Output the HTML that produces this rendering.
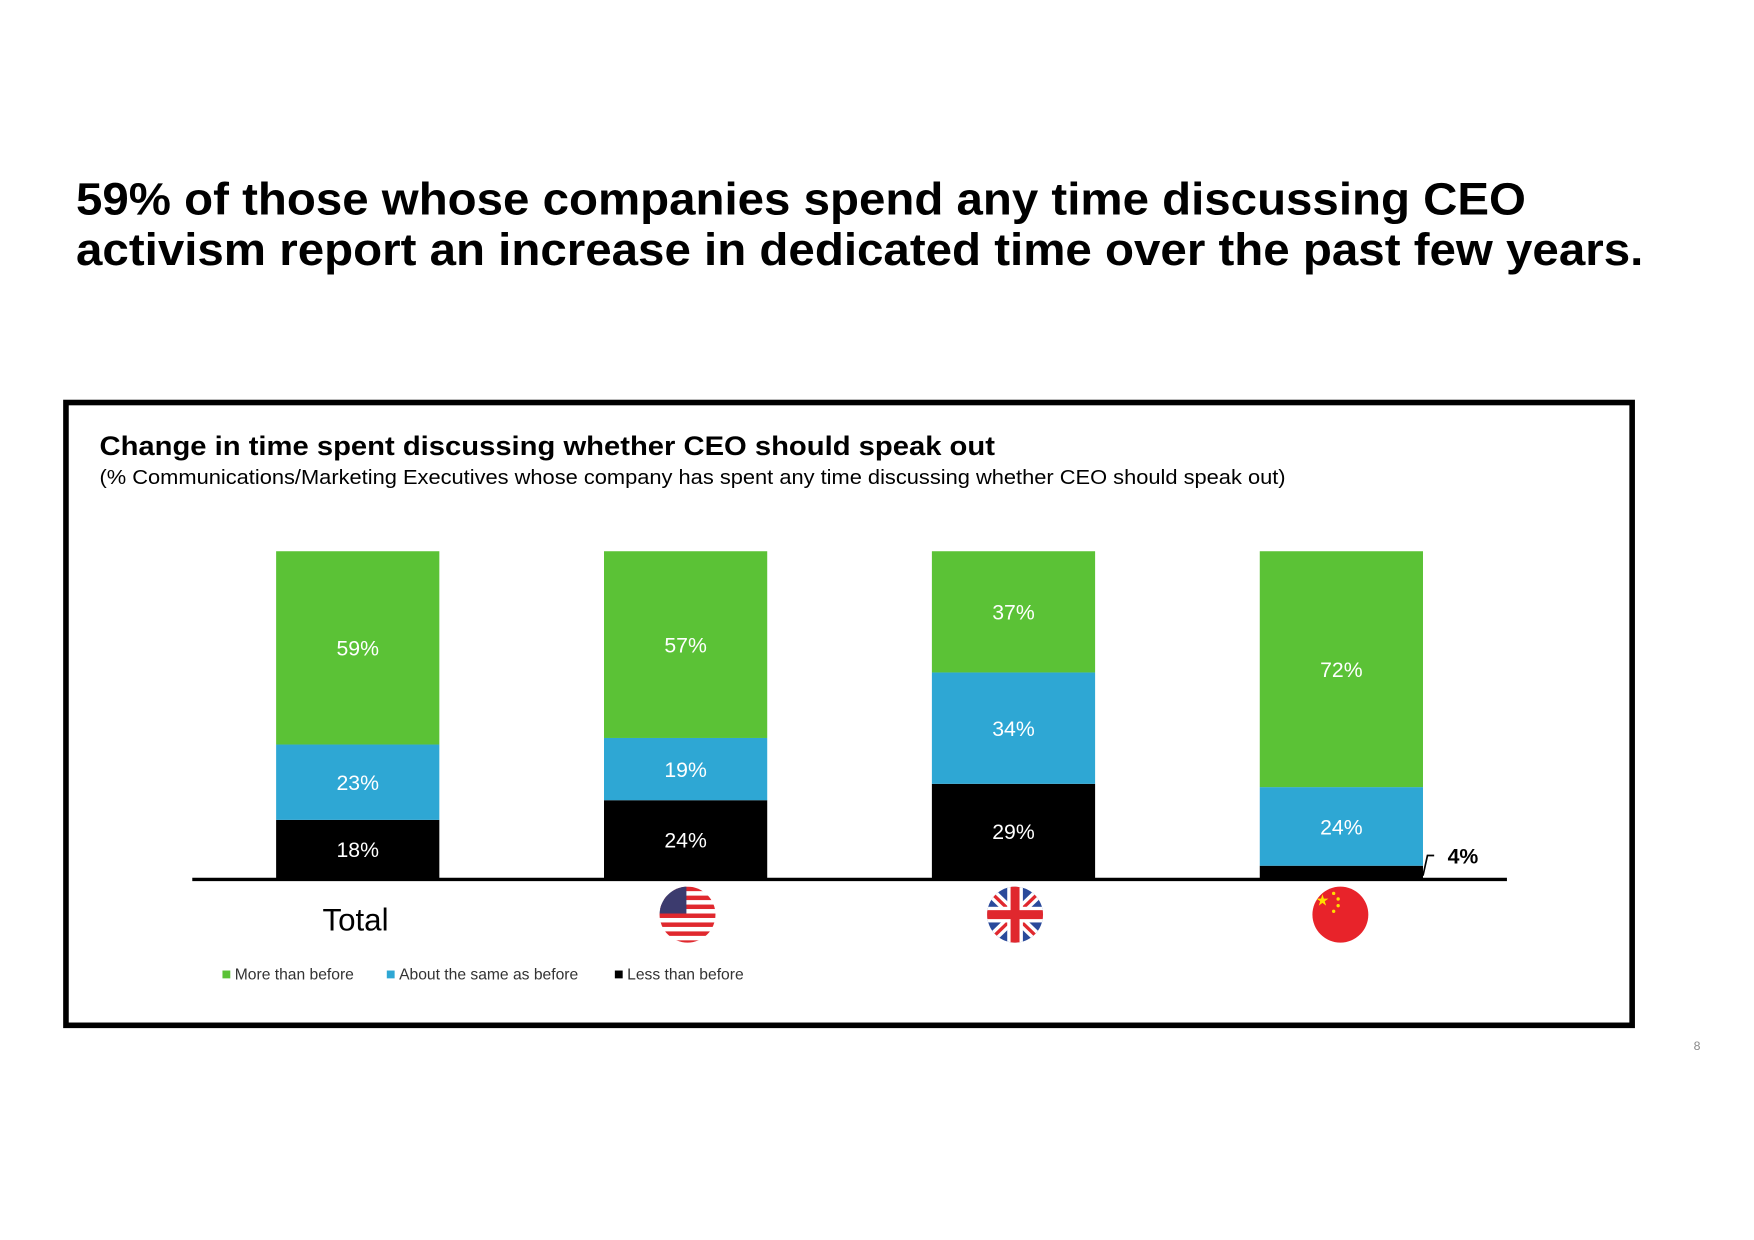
<!DOCTYPE html>
<html><head><meta charset="utf-8"><style>
html,body{margin:0;padding:0;background:#fff;}
svg{display:block;font-family:"Liberation Sans",Arial,sans-serif;}
</style></head><body>
<svg id="chart" width="1754" height="1240" viewBox="0 0 1569 1109" preserveAspectRatio="none">
<defs>
<clipPath id="cUS"><circle cx="615" cy="818" r="25"/></clipPath>
<clipPath id="cUK"><circle cx="908" cy="818" r="25"/></clipPath>
<clipPath id="cCN"><circle cx="1199" cy="818" r="25"/></clipPath>
</defs>
<text x="68" y="192" font-size="41" font-weight="bold" textLength="1297" lengthAdjust="spacingAndGlyphs">59% of those whose companies spend any time discussing CEO</text>
<text x="68" y="237" font-size="41" font-weight="bold" textLength="1402" lengthAdjust="spacingAndGlyphs">activism report an increase in dedicated time over the past few years.</text>
<rect x="59" y="360" width="1401" height="557" fill="none" stroke="#000" stroke-width="5"/>
<text x="89" y="407" font-size="24" font-weight="bold" textLength="801" lengthAdjust="spacingAndGlyphs">Change in time spent discussing whether CEO should speak out</text>
<text x="89" y="433" font-size="18.5" textLength="1061" lengthAdjust="spacingAndGlyphs">(% Communications/Marketing Executives whose company has spent any time discussing whether CEO should speak out)</text>
<g id="bars"></g>
<line x1="172" y1="786.5" x2="1348" y2="786.5" stroke="#000" stroke-width="3"/>
<text x="318" y="832" font-size="28" text-anchor="middle">Total</text>
<g clip-path="url(#cUS)">
<rect x="588" y="792" width="54" height="54" fill="#fff"/>
<g fill="#e0282e">
<rect x="588" y="793" width="54" height="4"/><rect x="588" y="801" width="54" height="4"/><rect x="588" y="809" width="54" height="4"/><rect x="588" y="817" width="54" height="4"/><rect x="588" y="825" width="54" height="4"/><rect x="588" y="833" width="54" height="4"/><rect x="588" y="841" width="54" height="4"/></g>
<rect x="588" y="792" width="26" height="25" fill="#3c3b6e"/>
</g>
<g clip-path="url(#cUK)">
<rect x="880" y="792" width="56" height="54" fill="#2a4a9b"/>
<line x1="880" y1="792" x2="936" y2="846" stroke="#fff" stroke-width="9"/>
<line x1="936" y1="792" x2="880" y2="846" stroke="#fff" stroke-width="9"/>
<line x1="880" y1="792" x2="936" y2="846" stroke="#e0282e" stroke-width="3"/>
<line x1="936" y1="792" x2="880" y2="846" stroke="#e0282e" stroke-width="3"/>
<rect x="880" y="811" width="56" height="14" fill="#fff"/><rect x="901" y="792" width="14" height="54" fill="#fff"/>
<rect x="880" y="814" width="56" height="8" fill="#e0282e"/><rect x="904" y="792" width="8" height="54" fill="#e0282e"/>
</g>
<g clip-path="url(#cCN)">
<rect x="1172" y="792" width="56" height="54" fill="#e8232a"/>
<text x="1183" y="810" font-size="14" fill="#ffde00" text-anchor="middle">★</text>
<circle cx="1193" cy="799" r="1.5" fill="#ffde00"/><circle cx="1197" cy="804" r="1.5" fill="#ffde00"/><circle cx="1197" cy="810" r="1.5" fill="#ffde00"/><circle cx="1193" cy="815" r="1.5" fill="#ffde00"/>
</g>
<g font-size="14" fill="#333">
<rect x="199" y="868" width="7" height="7" fill="#5bc236"/>
<text x="210" y="876">More than before</text>
<rect x="346" y="868" width="7" height="7" fill="#2ea7d4"/>
<text x="357" y="876">About the same as before</text>
<rect x="550" y="868" width="7" height="7" fill="#000"/>
<text x="561" y="876">Less than before</text>
</g>
<text x="1515" y="939" font-size="11" fill="#888">8</text>
</svg>
<script>
const categories = ["Total", "US", "UK", "China"];
const lessValues = [18, 24, 29, 4];
const sameValues = [23, 19, 34, 24];
const moreValues = [59, 57, 37, 72];
const seriesNames = ["less", "same", "more"];

const NS = "http://www.w3.org/2000/svg";
const g = document.getElementById("bars");
const baseY = 786, plotH = 293, barW = 146, firstX = 247, step = 293.3;
function yScale(v){ return plotH * v / 100; }
function xScale(i){ return firstX + i * step; }
const colors = {less:"#000000", same:"#2ea7d4", more:"#5bc236"};
const series = {less:lessValues, same:sameValues, more:moreValues};
categories.forEach((c, i) => {
  let cum = 0;
  seriesNames.forEach(s => {
    const v = series[s][i];
    const h = yScale(v);
    const y = baseY - yScale(cum) - h;
    const r = document.createElementNS(NS, "rect");
    r.setAttribute("x", xScale(i)); r.setAttribute("y", y);
    r.setAttribute("width", barW); r.setAttribute("height", h);
    r.setAttribute("fill", colors[s]);
    
    
    g.appendChild(r);
    const t = document.createElementNS(NS, "text");
    t.textContent = v + "%";
    t.setAttribute("font-size", "19");
    if (h > 25) {
      t.setAttribute("x", xScale(i) + barW / 2);
      t.setAttribute("y", y + h / 2 + 7);
      t.setAttribute("text-anchor", "middle");
      t.setAttribute("fill", "#fff");
    } else {
      t.setAttribute("x", xScale(i) + barW + 22);
      t.setAttribute("y", y + h / 2 - 8);
      t.setAttribute("fill", "#000");
      t.setAttribute("font-weight", "bold");
      const l = document.createElementNS(NS, "polyline");
      l.setAttribute("points", (xScale(i)+barW)+","+(y+h/2+3)+" "+(xScale(i)+barW+4)+","+(y+h/2-15)+" "+(xScale(i)+barW+10)+","+(y+h/2-15));
      l.setAttribute("fill", "none"); l.setAttribute("stroke", "#000"); l.setAttribute("stroke-width", "1.5");
      
      
      g.appendChild(l);
    }
    
    
    g.appendChild(t);
    cum += v;
  });
});
</script>
</body></html>
